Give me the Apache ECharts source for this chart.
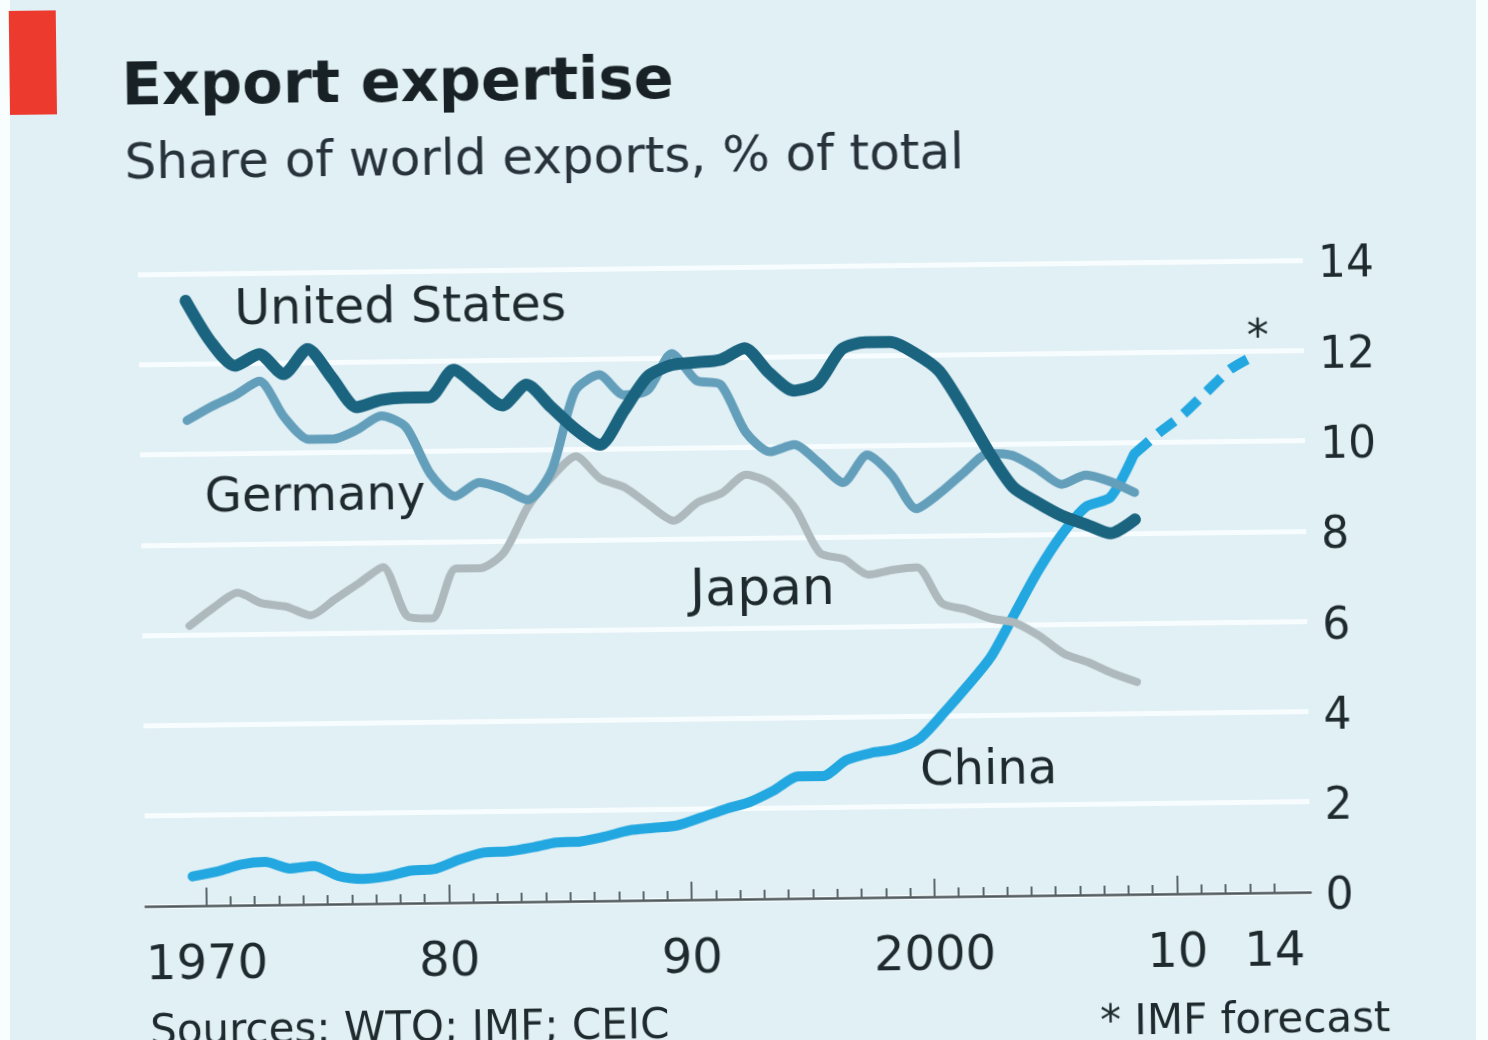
<!DOCTYPE html>
<html>
<head>
<meta charset="utf-8">
<title>Export expertise</title>
<script src="https://cdn.jsdelivr.net/npm/echarts@6/dist/echarts.min.js"></script>
<style>
  html, body { margin: 0; padding: 0; background: #f8fdfe; overflow: hidden; }
  #panel { position: absolute; left: 10px; top: 0; width: 1466px; height: 1040px; background: #e1f0f5; }
  #chart { position: absolute; left: 0; top: 0; width: 1488px; height: 1040px;
           transform: rotate(-0.7deg); transform-origin: 744px 520px; }
</style>
</head>
<body>
<div id="panel"></div>
<div id="chart"></div>
<script>
// Share of world exports, % of total, by year
const years = [1970,1971,1972,1973,1974,1975,1976,1977,1978,1979,
               1980,1981,1982,1983,1984,1985,1986,1987,1988,1989,
               1990,1991,1992,1993,1994,1995,1996,1997,1998,1999,
               2000,2001,2002,2003,2004,2005,2006,2007,2008,2009];

const unitedStates = [13.4,12.5,11.95,12.2,11.75,12.3,11.65,11.0,11.15,11.2,
                      11.2,11.8,11.4,11.0,11.45,10.95,10.45,10.1,10.85,11.6,
                      11.85,11.9,11.95,12.2,11.65,11.25,11.4,12.15,12.3,12.3,
                      12.05,11.65,10.8,9.85,9.05,8.7,8.4,8.2,8.0,8.3];

const germany = [10.75,11.05,11.3,11.6,10.8,10.3,10.3,10.5,10.8,10.55,
                 9.5,9.0,9.3,9.15,8.9,9.55,11.3,11.65,11.2,11.3,
                 12.1,11.5,11.4,10.35,9.9,10.05,9.65,9.2,9.8,9.35,
                 8.6,8.95,9.4,9.8,9.75,9.45,9.1,9.3,9.15,8.9];

const japan = [6.2,6.6,6.92,6.68,6.6,6.4,6.75,7.1,7.45,6.35,
               6.3,7.4,7.4,7.75,8.75,9.4,9.85,9.35,9.15,8.75,
               8.4,8.8,9.0,9.4,9.2,8.65,7.65,7.5,7.15,7.25,
               7.3,6.5,6.35,6.15,6.05,5.75,5.35,5.15,4.9,4.7];

const china = [0.65,0.75,0.9,0.95,0.8,0.85,0.62,0.55,0.6,0.72,
               0.75,0.95,1.1,1.12,1.2,1.3,1.32,1.42,1.55,1.6,
               1.65,1.82,2.0,2.15,2.4,2.7,2.7,3.05,3.2,3.28,
               3.5,4.05,4.65,5.3,6.25,7.2,8.0,8.6,8.8,9.75];

// IMF forecast for China, continuing from the last actual year
const forecastYears = [2009,2010,2011,2012,2013,2014];
const chinaForecast = [9.75,10.2,10.6,11.1,11.6,11.9];

// Axis ticks and labels
const axisYears = [];
for (let y = 1968; y <= 2015; y++) axisYears.push(String(y));
const xTickLabels = { '1970': '1970', '1980': '80', '1990': '90', '2000': '2000', '2010': '10', '2014': '14' };
const decadeYears = ['1970', '1980', '1990', '2000', '2010'];
const yTicks = [0, 2, 4, 6, 8, 10, 12, 14];

const pairs = (xs, vs) => xs.map((x, i) => [x, vs[i]]);

const FONT = '"DejaVu Sans", "Noto Sans", sans-serif';
const INK = '#1e2a2e';

const chart = echarts.init(document.getElementById('chart'), null, { renderer: 'canvas' });

const option = {
  backgroundColor: 'transparent',
  animation: false,
  grid: { left: 141, right: 182, top: 267, bottom: 141, containLabel: false },
  xAxis: [
    {
      // baseline, small yearly ticks and year labels
      type: 'category',
      data: axisYears,
      boundaryGap: true,
      position: 'bottom',
      axisLine: { show: true, lineStyle: { color: '#4d585c', width: 2.5 } },
      axisTick: {
        show: true, inside: true, length: 9, alignWithLabel: true,
        interval: (i, v) => +v >= 1970 && +v <= 2014,
        lineStyle: { color: '#5b676b', width: 2 }
      },
      axisLabel: {
        interval: (i, v) => v in xTickLabels,
        formatter: v => xTickLabels[v] || '',
        fontFamily: FONT, fontSize: 48, color: INK, margin: 37
      },
      splitLine: { show: false }
    },
    {
      // taller decade ticks
      type: 'category',
      data: axisYears,
      boundaryGap: true,
      position: 'bottom',
      axisLine: { show: false },
      axisTick: {
        show: true, inside: true, length: 18, alignWithLabel: true,
        interval: (i, v) => decadeYears.indexOf(v) >= 0,
        lineStyle: { color: '#5b676b', width: 2 }
      },
      axisLabel: { show: false },
      splitLine: { show: false }
    },
    {
      // continuous year scale the series are drawn on
      type: 'value',
      show: false,
      min: 1968.05,
      max: 2016.05,
      splitLine: { show: false }
    }
  ],
  yAxis: {
    type: 'value',
    position: 'right',
    min: yTicks[0],
    max: yTicks[yTicks.length - 1],
    interval: 2,
    axisLine: { show: false },
    axisTick: { show: false },
    axisLabel: {
      margin: 15,
      formatter: v => '{n|' + v + '}',
      rich: { n: { fontFamily: FONT, fontSize: 44, color: INK, padding: [12, 0, 0, 0] } }
    },
    splitLine: { show: true, lineStyle: { color: '#f7fcfe', width: 5 } }
  },
  series: [
    {
      name: 'China', type: 'line', xAxisIndex: 2, data: pairs(years, china),
      showSymbol: false, smooth: 0.25, z: 2,
      lineStyle: { color: '#23a7e0', width: 10, cap: 'round', join: 'round' }
    },
    {
      name: 'China forecast', type: 'line', xAxisIndex: 2, data: pairs(forecastYears, chinaForecast),
      showSymbol: false, smooth: 0.25, z: 2,
      lineStyle: { color: '#23a7e0', width: 10, type: [20, 12], cap: 'butt' }
    },
    {
      name: 'Japan', type: 'line', xAxisIndex: 2, data: pairs(years, japan),
      showSymbol: false, smooth: 0.25, z: 3,
      lineStyle: { color: '#adb9bd', width: 8, cap: 'round', join: 'round' }
    },
    {
      name: 'Germany', type: 'line', xAxisIndex: 2, data: pairs(years, germany),
      showSymbol: false, smooth: 0.25, z: 4,
      lineStyle: { color: '#639fbb', width: 9, cap: 'round', join: 'round' }
    },
    {
      name: 'United States', type: 'line', xAxisIndex: 2, data: pairs(years, unitedStates),
      showSymbol: false, smooth: 0.25, z: 5,
      lineStyle: { color: '#1a6480', width: 12, cap: 'round', join: 'round' }
    }
  ],
  graphic: [
    { type: 'rect', shape: { x: 15, y: 2, width: 47, height: 104 }, style: { fill: '#ec3a2e' } },
    { type: 'text', x: 127, y: 82, style: { text: 'Export expertise', font: 'bold 59px ' + FONT, fill: '#182226', textAlign: 'left', textVerticalAlign: 'middle' } },
    { type: 'text', x: 129, y: 158, style: { text: 'Share of world exports, % of total', font: '50px ' + FONT, fill: '#27323a', textAlign: 'left', textVerticalAlign: 'middle' } },
    { type: 'text', x: 237, y: 305, z: 10, style: { text: 'United States', font: '49px ' + FONT, fill: INK, textAlign: 'left', textVerticalAlign: 'middle' } },
    { type: 'text', x: 205, y: 493, z: 10, style: { text: 'Germany', font: '48px ' + FONT, fill: INK, textAlign: 'left', textVerticalAlign: 'middle' } },
    { type: 'text', x: 689, y: 591, z: 10, style: { text: 'Japan', font: '52px ' + FONT, fill: INK, textAlign: 'left', textVerticalAlign: 'middle' } },
    { type: 'text', x: 917, y: 775, z: 10, style: { text: 'China', font: '48px ' + FONT, fill: INK, textAlign: 'left', textVerticalAlign: 'middle' } },
    { type: 'text', x: 1260, y: 346, z: 10, style: { text: '*', font: '44px ' + FONT, fill: INK, textAlign: 'center', textVerticalAlign: 'middle' } },
    { type: 'text', x: 144, y: 1026, style: { text: 'Sources: WTO; IMF; CEIC', font: '42px ' + FONT, fill: INK, textAlign: 'left', textVerticalAlign: 'middle' } },
    { type: 'text', x: 1094, y: 1028, style: { text: '* IMF forecast', font: '42px ' + FONT, fill: INK, textAlign: 'left', textVerticalAlign: 'middle' } }
  ]
};

chart.setOption(option);
</script>
</body>
</html>
